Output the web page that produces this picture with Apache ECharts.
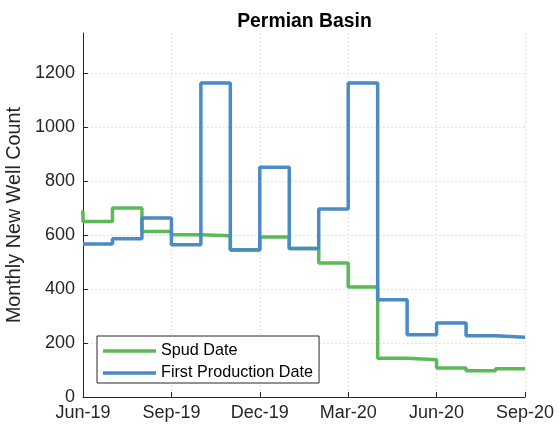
<!DOCTYPE html>
<html>
<head>
<meta charset="utf-8">
<script src="https://cdn.jsdelivr.net/npm/echarts@6/dist/echarts.min.js"></script>
<style>
html,body{margin:0;padding:0;background:#fff;}
#chart{width:559px;height:430px;}
</style>
</head>
<body>
<div id="chart"></div>
<script>
// Months (May-19 sits just left of the visible axis start)
const months = ['May-19','Jun-19','Jul-19','Aug-19','Sep-19','Oct-19','Nov-19','Dec-19','Jan-20','Feb-20','Mar-20','Apr-20','May-20','Jun-20','Jul-20','Aug-20','Sep-20'];
const spudDate = [685, 651, 701, 614, 602, 598, 546, 593, 551, 497, 408, 144, 138, 108, 97, 105, 105];
const firstProductionDate = [null, 567, 587, 664, 565, 1165, 545, 852, 551, 697, 1165, 361, 231, 274, 227, 222, 222];
const xTickLabels = ['Jun-19','Sep-19','Dec-19','Mar-20','Jun-20','Sep-20'];
const yTickValues = [0, 200, 400, 600, 800, 1000, 1200];

const startIndex = months.indexOf('Jun-19');
const toPairs = arr => arr.map((v, i) => [i - startIndex, v]);

const textColor = '#262626';
const chart = echarts.init(document.getElementById('chart'));
chart.setOption({
  animation: false,
  backgroundColor: '#ffffff',
  title: {
    text: 'Permian Basin',
    left: 299.5,
    textAlign: 'center',
    top: 7,
    textStyle: {fontFamily: 'Liberation Sans', fontSize: 19.4, fontWeight: 'bold', color: '#000'}
  },
  grid: {left: 83, right: 34, top: 33, bottom: 33, containLabel: false, outerBoundsMode: 'none'},
  legend: {
    orient: 'vertical',
    left: 97,
    top: 336,
    data: ['Spud Date', 'First Production Date'],
    icon: 'rect',
    itemWidth: 53,
    itemHeight: 3.5,
    itemGap: 4,
    padding: [6, 6, 1, 6],
    borderColor: '#262626',
    borderWidth: 1,
    backgroundColor: '#fff',
    borderRadius: 0,
    textStyle: {fontFamily: 'Liberation Sans', fontSize: 16.2, color: '#000', lineHeight: 18}
  },
  xAxis: {
    type: 'value',
    min: 0,
    max: 15,
    interval: 3,
    axisLine: {show: true, lineStyle: {color: textColor, width: 1}},
    axisTick: {show: true, inside: true, length: 5, lineStyle: {color: textColor}},
    axisLabel: {
      margin: 7,
      fontFamily: 'Liberation Sans',
      fontSize: 18,
      color: textColor,
      formatter: v => xTickLabels[Math.round(v / 3)] || ''
    },
    splitLine: {show: true, lineStyle: {color: '#d9d9d9', type: [1.5, 2.5], width: 1}}
  },
  yAxis: {
    type: 'value',
    min: 0,
    max: 1350,
    interval: 50,
    name: 'Monthly New Well Count',
    nameLocation: 'middle',
    nameGap: 53,
    nameTextStyle: {fontFamily: 'Liberation Sans', fontSize: 19.8, color: textColor},
    axisLine: {show: true, lineStyle: {color: textColor, width: 1}},
    axisTick: {show: true, inside: true, length: 5, lineStyle: {color: textColor}, customValues: yTickValues},
    axisLabel: {
      margin: 8,
      fontFamily: 'Liberation Sans',
      fontSize: 18,
      color: textColor,
      customValues: yTickValues,
      formatter: v => String(v)
    },
    splitLine: {show: true, lineStyle: {color: '#d9d9d9', type: [1.5, 2.5], width: 1}}
  },
  series: [
    {
      name: 'Spud Date',
      type: 'line',
      step: 'end',
      showSymbol: false,
      clip: true,
      color: '#5bb957',
      lineStyle: {width: 3.5, color: '#5bb957'},
      data: toPairs(spudDate),
      z: 2
    },
    {
      name: 'First Production Date',
      type: 'line',
      step: 'end',
      showSymbol: false,
      clip: true,
      color: '#4a8ac6',
      lineStyle: {width: 3.5, color: '#4a8ac6'},
      data: toPairs(firstProductionDate),
      z: 3
    }
  ]
});
</script>
</body>
</html>
